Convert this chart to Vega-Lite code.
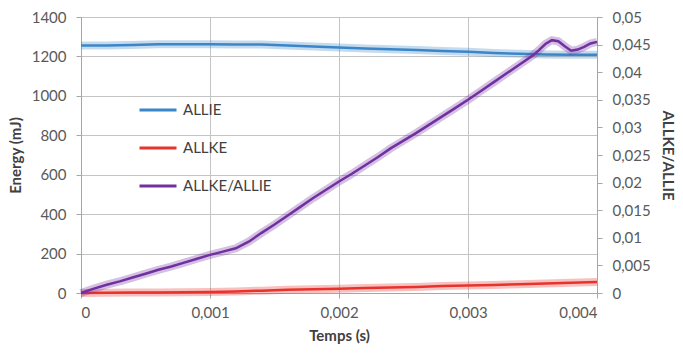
{
  "$schema": "https://vega.github.io/schema/vega-lite/v6.json",
  "width": 516,
  "height": 276,
  "autosize": {"type": "none"},
  "padding": {"left": 81, "top": 17, "right": 86, "bottom": 62},
  "background": "white",
  "config": {
    "view": {"stroke": null},
    "font": "Lato",
    "axis": {
      "labelFont": "Lato",
      "labelFontSize": 15,
      "labelColor": "#595959",
      "titleFont": "Lato",
      "titleFontSize": 15,
      "titleFontWeight": "bold",
      "titleColor": "#404040",
      "gridColor": "#c4c4c4",
      "gridWidth": 1,
      "domainColor": "#a6a6a6",
      "tickColor": "#a6a6a6",
      "tickSize": 5
    },
    "legend": {
      "labelFont": "Lato",
      "labelFontSize": 15,
      "labelColor": "#404040"
    }
  },
  "data": {
    "values": [
      {"t": 0.0000, "series": "ALLIE", "value": 1255},
      {"t": 0.0002, "series": "ALLIE", "value": 1256},
      {"t": 0.0004, "series": "ALLIE", "value": 1258},
      {"t": 0.0006, "series": "ALLIE", "value": 1262},
      {"t": 0.0008, "series": "ALLIE", "value": 1262},
      {"t": 0.0010, "series": "ALLIE", "value": 1262},
      {"t": 0.0012, "series": "ALLIE", "value": 1261},
      {"t": 0.0014, "series": "ALLIE", "value": 1260},
      {"t": 0.0016, "series": "ALLIE", "value": 1255},
      {"t": 0.0018, "series": "ALLIE", "value": 1250},
      {"t": 0.0020, "series": "ALLIE", "value": 1245},
      {"t": 0.0022, "series": "ALLIE", "value": 1240},
      {"t": 0.0024, "series": "ALLIE", "value": 1236},
      {"t": 0.0026, "series": "ALLIE", "value": 1232},
      {"t": 0.0028, "series": "ALLIE", "value": 1228},
      {"t": 0.0030, "series": "ALLIE", "value": 1224},
      {"t": 0.0032, "series": "ALLIE", "value": 1218},
      {"t": 0.0034, "series": "ALLIE", "value": 1213},
      {"t": 0.0036, "series": "ALLIE", "value": 1210},
      {"t": 0.0038, "series": "ALLIE", "value": 1209},
      {"t": 0.0040, "series": "ALLIE", "value": 1208},
      {"t": 0.0000, "series": "ALLKE", "value": 0},
      {"t": 0.0002, "series": "ALLKE", "value": 1},
      {"t": 0.0004, "series": "ALLKE", "value": 2},
      {"t": 0.0006, "series": "ALLKE", "value": 3},
      {"t": 0.0008, "series": "ALLKE", "value": 4},
      {"t": 0.0010, "series": "ALLKE", "value": 5},
      {"t": 0.0012, "series": "ALLKE", "value": 8},
      {"t": 0.0014, "series": "ALLKE", "value": 12},
      {"t": 0.0016, "series": "ALLKE", "value": 16},
      {"t": 0.0018, "series": "ALLKE", "value": 19},
      {"t": 0.0020, "series": "ALLKE", "value": 22},
      {"t": 0.0022, "series": "ALLKE", "value": 25},
      {"t": 0.0024, "series": "ALLKE", "value": 28},
      {"t": 0.0026, "series": "ALLKE", "value": 31},
      {"t": 0.0028, "series": "ALLKE", "value": 35},
      {"t": 0.0030, "series": "ALLKE", "value": 38},
      {"t": 0.0032, "series": "ALLKE", "value": 41},
      {"t": 0.0034, "series": "ALLKE", "value": 44},
      {"t": 0.0036, "series": "ALLKE", "value": 48},
      {"t": 0.0038, "series": "ALLKE", "value": 52},
      {"t": 0.0040, "series": "ALLKE", "value": 56},
      {"t": 0.0000, "series": "ALLKE/ALLIE", "value": 0},
      {"t": 0.0001, "series": "ALLKE/ALLIE", "value": 0.0008},
      {"t": 0.0002, "series": "ALLKE/ALLIE", "value": 0.0015},
      {"t": 0.0003, "series": "ALLKE/ALLIE", "value": 0.0021},
      {"t": 0.0004, "series": "ALLKE/ALLIE", "value": 0.0028},
      {"t": 0.0005, "series": "ALLKE/ALLIE", "value": 0.0035},
      {"t": 0.0006, "series": "ALLKE/ALLIE", "value": 0.0042},
      {"t": 0.0007, "series": "ALLKE/ALLIE", "value": 0.0048},
      {"t": 0.0008, "series": "ALLKE/ALLIE", "value": 0.0055},
      {"t": 0.0009, "series": "ALLKE/ALLIE", "value": 0.0062},
      {"t": 0.0010, "series": "ALLKE/ALLIE", "value": 0.0069},
      {"t": 0.0011, "series": "ALLKE/ALLIE", "value": 0.0075},
      {"t": 0.0012, "series": "ALLKE/ALLIE", "value": 0.0081},
      {"t": 0.0013, "series": "ALLKE/ALLIE", "value": 0.0093},
      {"t": 0.0014, "series": "ALLKE/ALLIE", "value": 0.0109},
      {"t": 0.0015, "series": "ALLKE/ALLIE", "value": 0.0124},
      {"t": 0.0016, "series": "ALLKE/ALLIE", "value": 0.0140},
      {"t": 0.0017, "series": "ALLKE/ALLIE", "value": 0.0156},
      {"t": 0.0018, "series": "ALLKE/ALLIE", "value": 0.0172},
      {"t": 0.0019, "series": "ALLKE/ALLIE", "value": 0.0187},
      {"t": 0.0020, "series": "ALLKE/ALLIE", "value": 0.0202},
      {"t": 0.0021, "series": "ALLKE/ALLIE", "value": 0.0216},
      {"t": 0.0022, "series": "ALLKE/ALLIE", "value": 0.0231},
      {"t": 0.0023, "series": "ALLKE/ALLIE", "value": 0.0246},
      {"t": 0.0024, "series": "ALLKE/ALLIE", "value": 0.0262},
      {"t": 0.0025, "series": "ALLKE/ALLIE", "value": 0.0276},
      {"t": 0.0026, "series": "ALLKE/ALLIE", "value": 0.0290},
      {"t": 0.0027, "series": "ALLKE/ALLIE", "value": 0.0305},
      {"t": 0.0028, "series": "ALLKE/ALLIE", "value": 0.0320},
      {"t": 0.0029, "series": "ALLKE/ALLIE", "value": 0.0335},
      {"t": 0.0030, "series": "ALLKE/ALLIE", "value": 0.0350},
      {"t": 0.0031, "series": "ALLKE/ALLIE", "value": 0.0366},
      {"t": 0.0032, "series": "ALLKE/ALLIE", "value": 0.0382},
      {"t": 0.0033, "series": "ALLKE/ALLIE", "value": 0.0398},
      {"t": 0.0034, "series": "ALLKE/ALLIE", "value": 0.0414},
      {"t": 0.0035, "series": "ALLKE/ALLIE", "value": 0.0430},
      {"t": 0.00355, "series": "ALLKE/ALLIE", "value": 0.0440},
      {"t": 0.0036, "series": "ALLKE/ALLIE", "value": 0.0451},
      {"t": 0.00365, "series": "ALLKE/ALLIE", "value": 0.0458},
      {"t": 0.0037, "series": "ALLKE/ALLIE", "value": 0.0456},
      {"t": 0.00375, "series": "ALLKE/ALLIE", "value": 0.0447},
      {"t": 0.0038, "series": "ALLKE/ALLIE", "value": 0.0439},
      {"t": 0.00385, "series": "ALLKE/ALLIE", "value": 0.0441},
      {"t": 0.0039, "series": "ALLKE/ALLIE", "value": 0.0446},
      {"t": 0.00395, "series": "ALLKE/ALLIE", "value": 0.0452},
      {"t": 0.0040, "series": "ALLKE/ALLIE", "value": 0.0455}
    ]
  },
  "encoding": {
    "x": {
      "field": "t",
      "type": "quantitative",
      "scale": {"domain": [0, 0.004], "nice": false},
      "axis": {
        "title": "Temps (s)",
        "values": [0, 0.001, 0.002, 0.003, 0.004],
        "labelExpr": "replace(format(datum.value, '~g'), '.', ',')",
        "grid": true,
        "labelPadding": 7,
        "titlePadding": 8
      }
    },
    "color": {
      "field": "series",
      "type": "nominal",
      "scale": {
        "domain": ["ALLIE", "ALLKE", "ALLKE/ALLIE"],
        "range": ["#3B86C8", "#E8332C", "#7030A0"]
      },
      "legend": {
        "title": null,
        "orient": "none",
        "legendX": 57,
        "legendY": 73,
        "padding": 0,
        "symbolType": "stroke",
        "symbolSize": 1369,
        "symbolStrokeWidth": 3,
        "symbolOpacity": 1,
        "labelOffset": 5,
        "rowPadding": 10
      }
    }
  },
  "layer": [
    {
      "transform": [{"filter": "datum.series !== 'ALLKE/ALLIE'"}],
      "encoding": {
        "y": {
          "field": "value",
          "type": "quantitative",
          "scale": {"domain": [0, 1400], "nice": false},
          "axis": {
            "title": "Energy (mJ)",
            "values": [0, 200, 400, 600, 800, 1000, 1200, 1400],
            "format": "d",
            "grid": true,
            "labelPadding": 10,
            "titlePadding": 8
          }
        }
      },
      "layer": [
        {"mark": {"type": "line", "strokeWidth": 8, "opacity": 0.3}},
        {"mark": {"type": "line", "strokeWidth": 2.5}}
      ]
    },
    {
      "transform": [{"filter": "datum.series === 'ALLKE/ALLIE'"}],
      "encoding": {
        "y": {
          "field": "value",
          "type": "quantitative",
          "scale": {"domain": [0, 0.05], "nice": false},
          "axis": {
            "title": "ALLKE/ALLIE",
            "orient": "right",
            "values": [0, 0.005, 0.01, 0.015, 0.02, 0.025, 0.03, 0.035, 0.04, 0.045, 0.05],
            "labelExpr": "replace(format(datum.value, '~g'), '.', ',')",
            "grid": false,
            "labelPadding": 10,
            "titlePadding": 9
          }
        }
      },
      "layer": [
        {"mark": {"type": "line", "strokeWidth": 8, "opacity": 0.3}},
        {"mark": {"type": "line", "strokeWidth": 2.5}}
      ]
    }
  ],
  "resolve": {"scale": {"y": "independent"}}
}
